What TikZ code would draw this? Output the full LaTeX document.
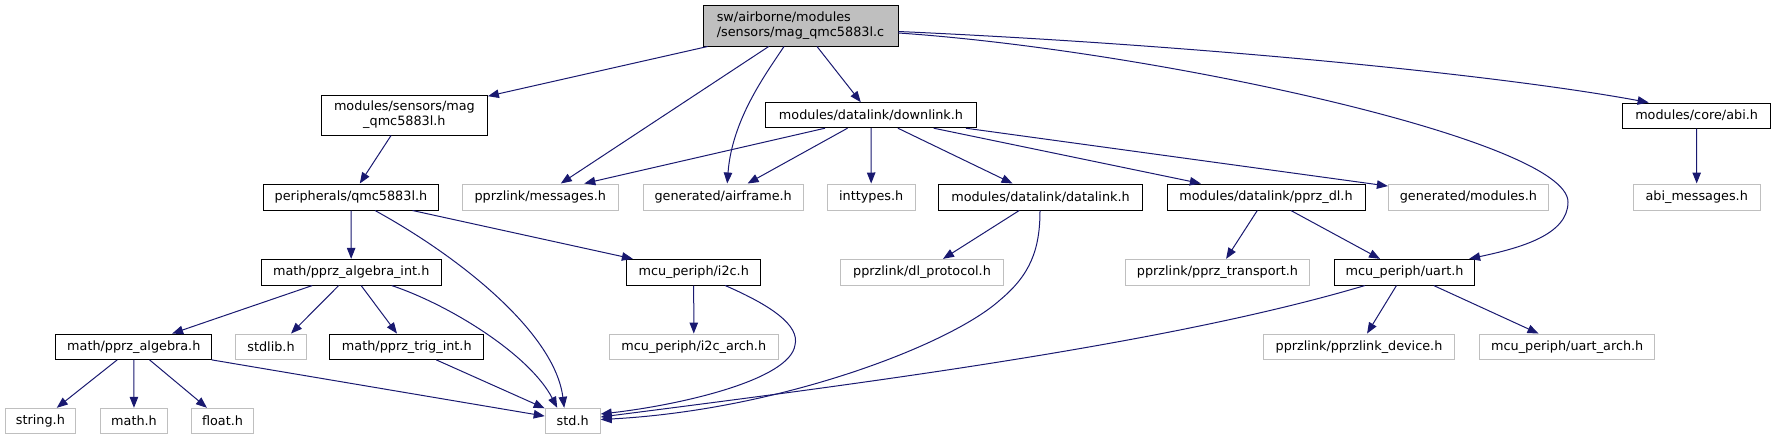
\documentclass[tikz,border=0pt]{standalone}
\usepackage{fontspec}
\setmainfont{DejaVu Sans}
\usetikzlibrary{arrows.meta}
\definecolor{edgeblue}{HTML}{191970}
\definecolor{nodegray}{HTML}{BFBFBF}
\definecolor{mainfill}{HTML}{BFBFBF}
\tikzset{
  box/.style={draw, line width=1pt, inner sep=0pt, align=center,
    font=\fontsize{12.8}{15}\selectfont, text=black},
  blk/.style={box, draw=black},
  gry/.style={box, draw=nodegray},
  edge/.style={draw=edgeblue, line width=1pt, -{Triangle[length=11pt,width=8.5pt]}}
}
\begin{document}
\begin{tikzpicture}[x=1pt,y=-1pt]
\useasboundingbox (0,0) rectangle (1775,440);
% row 0
\node[blk, fill=mainfill, align=left, minimum width=195pt, minimum height=41pt] (main) at (800.5,25.5)
  {sw/airborne/modules\\/sensors/mag\_qmc5883l.c};
% row 1
\node[blk, minimum width=166pt, minimum height=40pt] (magh) at (404.4,115) {modules/sensors/mag\\\_qmc5883l.h};
\node[blk, minimum width=211pt, minimum height=25pt] (downlink) at (871,115.2) {modules/datalink/downlink.h};
\node[blk, minimum width=148pt, minimum height=25pt] (abi) at (1696.6,115.5) {modules/core/abi.h};
% row 2
\node[blk, minimum width=175pt, minimum height=26pt] (periph) at (351,197) {peripherals/qmc5883l.h};
\node[gry, minimum width=156pt, minimum height=26pt] (messages) at (540.3,197) {pprzlink/messages.h};
\node[gry, minimum width=160pt, minimum height=26pt] (airframe) at (723.2,197) {generated/airframe.h};
\node[gry, minimum width=87.7pt, minimum height=26pt] (inttypes) at (871.2,197) {inttypes.h};
\node[blk, minimum width=204pt, minimum height=26pt] (datalink) at (1040.5,197) {modules/datalink/datalink.h};
\node[blk, minimum width=198pt, minimum height=26pt] (pprzdl) at (1266,197) {modules/datalink/pprz\_dl.h};
\node[gry, minimum width=160pt, minimum height=26pt] (modulesh) at (1468.4,197) {generated/modules.h};
\node[gry, minimum width=127pt, minimum height=26pt] (abimsg) at (1696.7,197) {abi\_messages.h};
% row 3
\node[blk, minimum width=180pt, minimum height=25.7pt] (algint) at (351.2,272.2) {math/pprz\_algebra\_int.h};
\node[blk, minimum width=134pt, minimum height=25.7pt] (i2c) at (693.7,272.2) {mcu\_periph/i2c.h};
\node[gry, minimum width=162.7pt, minimum height=25.7pt] (dlproto) at (922,272.2) {pprzlink/dl\_protocol.h};
\node[gry, minimum width=184pt, minimum height=25.7pt] (transport) at (1217.5,272.2) {pprzlink/pprz\_transport.h};
\node[blk, minimum width=140pt, minimum height=25.7pt] (uart) at (1404.6,272.2) {mcu\_periph/uart.h};
% row 4
\node[blk, minimum width=156pt, minimum height=25.3pt] (alg) at (133.8,346.7) {math/pprz\_algebra.h};
\node[gry, minimum width=70.5pt, minimum height=25.3pt] (stdlib) at (271,346.7) {stdlib.h};
\node[blk, minimum width=154pt, minimum height=25.3pt] (trig) at (406.8,346.7) {math/pprz\_trig\_int.h};
\node[gry, minimum width=169pt, minimum height=25.3pt] (i2carch) at (693.8,346.7) {mcu\_periph/i2c\_arch.h};
\node[gry, minimum width=191pt, minimum height=25.3pt] (device) at (1359,346.7) {pprzlink/pprzlink\_device.h};
\node[gry, minimum width=175pt, minimum height=25.3pt] (uartarch) at (1567.2,346.7) {mcu\_periph/uart\_arch.h};
% row 5
\node[gry, minimum width=70pt, minimum height=25pt] (string) at (40.4,420.8) {string.h};
\node[gry, minimum width=67pt, minimum height=25pt] (math) at (134,420.8) {math.h};
\node[gry, minimum width=62.4pt, minimum height=25pt] (float) at (222.5,420.8) {float.h};
\node[gry, minimum width=55pt, minimum height=25pt] (std) at (572.7,420.8) {std.h};

% edges from main
\draw[edge] (main) -- (magh);
\draw[edge] (main) -- (messages);
\draw[edge] ([xshift=-16.5pt]main.south) .. controls (765,75) and (732,120) .. ([xshift=4pt]airframe.north);
\draw[edge] (main) -- (downlink);
\draw[edge] ([yshift=-7.5pt]main.east) .. controls (1150,50) and (1568,140) .. (1568,202)
  .. controls (1568,235) and (1520,248) .. ([xshift=-6pt]uart.north east);
\draw[edge] ([yshift=-6pt]main.east) .. controls (1200,45) and (1500,75) .. ([xshift=-48pt]abi.north);
% magh
\draw[edge] (magh) -- (periph);
% periph
\draw[edge] (periph) -- (algint);
\draw[edge] (periph) -- (i2c);
\draw[edge] ([xshift=24pt]periph.south) .. controls (465,260) and (555,335) .. ([xshift=-8.5pt]std.north);
% downlink
\draw[edge] ([xshift=-46pt]downlink.south) -- ([xshift=44pt]messages.north);
\draw[edge] (downlink) -- (airframe);
\draw[edge] (downlink) -- (inttypes);
\draw[edge] (downlink) -- (datalink);
\draw[edge] (downlink) -- (pprzdl);
\draw[edge] (downlink) -- (modulesh);
% datalink
\draw[edge] (datalink) -- (dlproto);
\draw[edge] ([xshift=-0.5pt]datalink.south) .. controls (1040,250) and (1030,275) .. (1000,300)
  .. controls (950,345) and (780,410) .. ([yshift=1.3pt]std.east);
% pprz_dl
\draw[edge] (pprzdl) -- (transport);
\draw[edge] (pprzdl) -- (uart);
% abi
\draw[edge] (abi) -- (abimsg);
% algint
\draw[edge] (algint) -- (alg);
\draw[edge] ([xshift=-12.5pt]algint.south) -- ([xshift=20pt]stdlib.north);
\draw[edge] (algint) -- (trig);
\draw[edge] ([xshift=40.5pt]algint.south) .. controls (450,305) and (530,355) .. ([xshift=-15.5pt]std.north);
% alg
\draw[edge] (alg) -- (string);
\draw[edge] (alg) -- (math);
\draw[edge] (alg) -- (float);
\draw[edge] (alg) -- (std);
% trig
\draw[edge] (trig) -- (std);
% i2c
\draw[edge] (i2c) -- (i2carch);
\draw[edge] ([xshift=31.5pt]i2c.south) .. controls (770,305) and (800,325) .. (795,345)
  .. controls (790,380) and (680,405) .. ([yshift=6.8pt]std.east);
% uart
\draw[edge] (uart) -- (device);
\draw[edge] (uart) -- (uartarch);
\draw[edge] ([xshift=-39.8pt]uart.south) .. controls (1165,345) and (850,385) .. ([yshift=3.8pt]std.east);
\end{tikzpicture}
\end{document}
